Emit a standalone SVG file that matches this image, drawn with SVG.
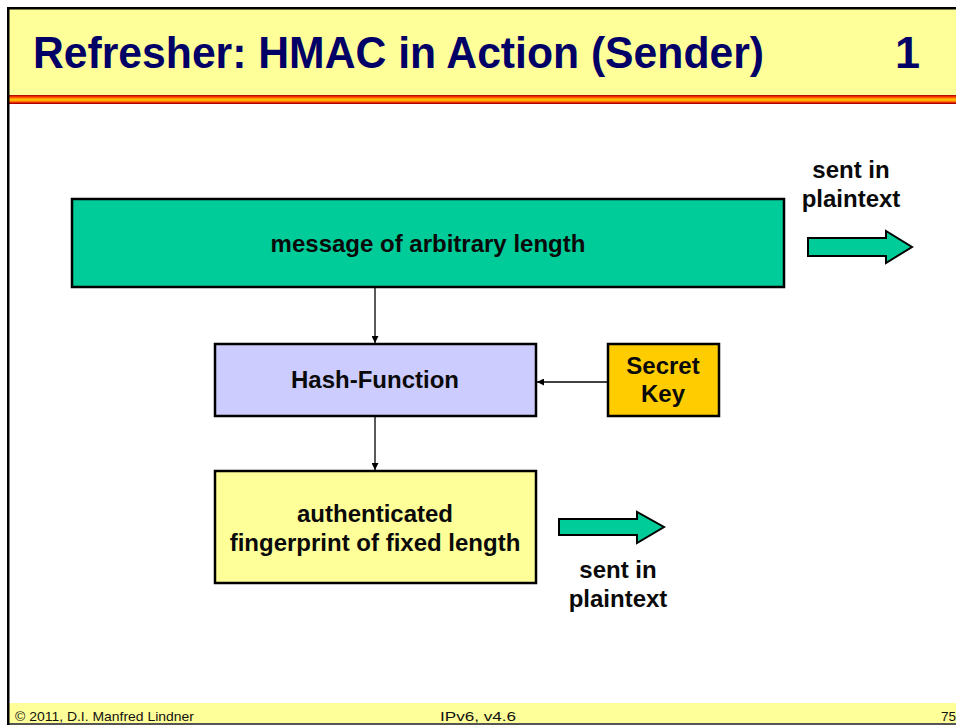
<svg xmlns="http://www.w3.org/2000/svg" width="956" height="725" viewBox="0 0 956 725">
  <style>
    .lbl { font-family: "Liberation Sans", Arial, sans-serif; font-weight: bold; font-size: 24px; fill: #0A0A0A; text-anchor: middle; }
    .box { stroke: #000000; stroke-width: 2.5; }
    .conn { stroke: #000000; stroke-width: 1.3; fill: none; }
    .blockarrow { fill: #00CC99; stroke: #000000; stroke-width: 2; stroke-linejoin: miter; }
    .foot { font-family: "Liberation Sans", Arial, sans-serif; font-size: 13.5px; fill: #111111; }
  </style>
  <defs>
    <linearGradient id="rainbow" x1="0" y1="0" x2="0" y2="1">
      <stop offset="0" stop-color="#990000"/>
      <stop offset="0.2" stop-color="#FF3300"/>
      <stop offset="0.4" stop-color="#FF9900"/>
      <stop offset="0.55" stop-color="#FFCC00"/>
      <stop offset="0.75" stop-color="#FF6600"/>
      <stop offset="0.9" stop-color="#CC0000"/>
      <stop offset="1" stop-color="#880000"/>
    </linearGradient>
    <marker id="tip" viewBox="0 0 10 10" refX="10" refY="5" markerWidth="7" markerHeight="7" orient="auto" markerUnits="userSpaceOnUse">
      <path d="M0,0 L10,5 L0,10 z" fill="#000000"/>
    </marker>
  </defs>

  <!-- page background -->
  <rect x="0" y="0" width="956" height="725" fill="#FFFFFF"/>

  <!-- title band -->
  <g id="header">
    <rect x="9" y="9" width="947" height="86" fill="#FFFF99"/>
    <rect x="7" y="7" width="949" height="2.5" fill="#000000"/>
    <rect x="7" y="95" width="949" height="9" fill="url(#rainbow)"/>
    <text x="33" y="68" font-family="'Liberation Sans', Arial, sans-serif" font-weight="bold" font-size="45" fill="#000066" textLength="731" lengthAdjust="spacingAndGlyphs">Refresher: HMAC in Action (Sender)</text>
    <text x="895" y="68" font-family="'Liberation Sans', Arial, sans-serif" font-weight="bold" font-size="45" fill="#000066">1</text>
  </g>

  <!-- footer band -->
  <g id="footer">
    <rect x="9" y="703" width="947" height="20" fill="#FFFF99"/>
    <rect x="7" y="723" width="949" height="2" fill="#555555"/>
    <text class="foot" x="15" y="721" textLength="179" lengthAdjust="spacingAndGlyphs">© 2011, D.I. Manfred Lindner</text>
    <text class="foot" x="440" y="721" textLength="76" lengthAdjust="spacingAndGlyphs">IPv6, v4.6</text>
    <text class="foot" x="941" y="721">75</text>
  </g>

  <!-- left page border -->
  <rect x="7" y="7" width="2.5" height="718" fill="#000000"/>

  <!-- connectors -->
  <g id="connectors">
    <line class="conn" x1="375" y1="288" x2="375" y2="343" marker-end="url(#tip)"/>
    <line class="conn" x1="607" y1="382" x2="537" y2="382" marker-end="url(#tip)"/>
    <line class="conn" x1="375" y1="417" x2="375" y2="470" marker-end="url(#tip)"/>
  </g>

  <g id="message">
    <rect class="box" x="72" y="199" width="712" height="88" fill="#00CC99"/>
    <text class="lbl" x="428" y="252">message of arbitrary length</text>
  </g>

  <g id="hash-function">
    <rect class="box" x="215" y="344" width="321" height="72" fill="#CCCCFF"/>
    <text class="lbl" x="375" y="388">Hash-Function</text>
  </g>

  <g id="secret-key">
    <rect class="box" x="608" y="344" width="111" height="72" fill="#FFCC00"/>
    <text class="lbl" x="663" y="374">Secret</text>
    <text class="lbl" x="663" y="402">Key</text>
  </g>

  <g id="fingerprint">
    <rect class="box" x="215" y="471" width="321" height="112" fill="#FFFF99"/>
    <text class="lbl" x="375" y="522">authenticated</text>
    <text class="lbl" x="375" y="551">fingerprint of fixed length</text>
  </g>

  <g id="message-sent">
    <path class="blockarrow" d="M808,238 L886,238 L886,231 L912,247 L886,263 L886,256 L808,256 Z"/>
    <text class="lbl" x="851" y="178">sent in</text>
    <text class="lbl" x="851" y="207">plaintext</text>
  </g>

  <g id="fingerprint-sent">
    <path class="blockarrow" d="M559,519 L637,519 L637,512 L664,527 L637,543 L637,535 L559,535 Z"/>
    <text class="lbl" x="618" y="578">sent in</text>
    <text class="lbl" x="618" y="607">plaintext</text>
  </g>
</svg>
